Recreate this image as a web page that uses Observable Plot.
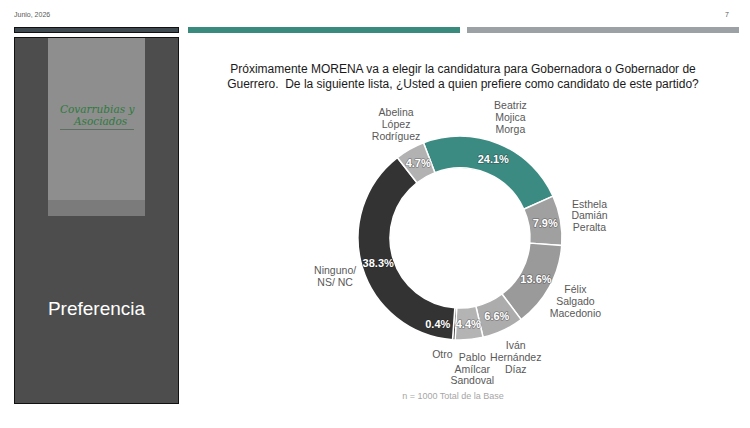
<!DOCTYPE html>
<html><head><meta charset="utf-8">
<script src="https://cdn.jsdelivr.net/npm/d3@7"></script>
<script src="https://cdn.jsdelivr.net/npm/@observablehq/plot@0.6"></script>
<style>
body{margin:0;background:#fff;font-family:"Liberation Sans",Arial,sans-serif;}
#page{position:relative;width:750px;height:428px;overflow:hidden;background:#fff}
.abs{position:absolute;box-sizing:border-box}
#chart svg{overflow:visible;background:transparent}
</style></head><body><div id="page">
<div class="abs" style="left:14px;top:11px;font-size:7px;color:#595959">Junio, 2026</div>
<div class="abs" style="left:725px;top:11px;font-size:7px;color:#595959">7</div>
<div class="abs" style="left:14px;top:27px;width:165px;height:6px;background:#3f4950;border:1px solid #111"></div>
<div class="abs" style="left:188px;top:27px;width:272px;height:6px;background:#3a8a7e"></div>
<div class="abs" style="left:467px;top:27px;width:272px;height:6px;background:#9ca1a6"></div>
<div class="abs" style="left:14px;top:37px;width:165px;height:367px;background:#4d4d4d;border:1px solid #111"></div>
<div class="abs" style="left:48px;top:38px;width:97px;height:162px;background:#8e8e8e"></div>
<div class="abs" style="left:48px;top:200px;width:97px;height:16px;background:#7b7b7b"></div>
<div class="abs" style="left:60px;top:103px;width:80px;font-family:'DejaVu Serif',serif;font-style:italic;color:#2f7a40;font-size:10.5px;line-height:12px">
 <div>Covarrubias y</div><div style="padding-left:14px">Asociados</div>
 <div style="margin-top:2px;border-top:1px solid #5d6f60;width:74px"></div>
</div>
<div class="abs" style="left:14px;top:298px;width:165px;text-align:center;color:#fff;font-size:19px">Preferencia</div>
<div class="abs" style="left:190px;top:62px;width:546px;text-align:center;color:#1a1a1a;font-size:12px;line-height:15px">Próximamente MORENA va a elegir la candidatura para Gobernadora o Gobernador de<br>Guerrero.&nbsp; De la siguiente lista, ¿Usted a quien prefiere como candidato de este partido?</div>
<div class="abs" style="left:353px;top:391px;width:200px;text-align:center;color:#a6a6a6;font-size:9px">n = 1000 Total de la Base</div>
<div id="chart" class="abs" style="left:300px;top:90px"></div>
</div>
<script>
const candidates = ["Beatriz\nMojica\nMorga","Esthela\nDamián\nPeralta","Félix\nSalgado\nMacedonio","Iván\nHernández\nDíaz","Pablo\nAmílcar\nSandoval","Otro","Ninguno/\nNS/ NC","Abelina\nLópez\nRodríguez"];
const shares = [24.1, 7.9, 13.6, 6.6, 4.4, 0.4, 38.3, 4.7];
const colors = ["#3b8b82","#a0a0a0","#9a9a9a","#acacac","#b4b4b4","#2b2b2b","#333333","#b2b2b2"];

const data = candidates.map((c, i) => ({name: c, share: shares[i], color: colors[i]}));
const start = -21 * Math.PI / 180;
const arcs = d3.pie().sort(null).value(d => d.share).startAngle(start).endAngle(start + 2 * Math.PI)(data);
const R_IN = 0.70, R_OUT = 1.02, R_VAL = 0.86, R_LAB = 1.31;
const rows = arcs.map(a => {
  const mid = (a.startAngle + a.endAngle) / 2;
  return {
    name: a.data.name,
    label: a.data.share.toFixed(1) + "%",
    share: a.data.share,
    vx: R_VAL * Math.sin(mid), vy: R_VAL * Math.cos(mid),
    lx: R_LAB * Math.sin(mid), ly: R_LAB * Math.cos(mid)
  };
});
const big = rows.filter(d => d.share >= 1);
const small = rows.filter(d => d.share < 1);

function donut(index, scales) {
  const {x, y} = scales;
  const cx = x(0), cy = y(0);
  const k = x(1) - x(0);
  const arc = d3.arc().innerRadius(R_IN * k).outerRadius(R_OUT * k);
  const g = d3.create("svg:g").attr("transform", `translate(${cx},${cy})`);
  g.selectAll("path").data(arcs).join("path")
    .attr("d", arc).attr("fill", d => d.data.color)
    .attr("stroke", "#fff").attr("stroke-width", 1.5).attr("stroke-linejoin", "round");
  return g.node();
}

const valueStyle = {fill: "#fff", fontWeight: "bold", fontSize: 11, stroke: "rgba(30,30,30,0.35)", strokeWidth: 1.6};
const nameStyle = {fill: "#595959", fontSize: 10.5, lineAnchor: "middle", lineHeight: 1.12};

const plot = Plot.plot({
  width: 320, height: 300, margin: 0,
  x: {domain: [-1.6, 1.6], axis: null},
  y: {domain: [-1.52, 1.48], axis: null},
  style: {fontFamily: "'Liberation Sans', Arial, sans-serif", background: "transparent"},
  marks: [
    donut,
    Plot.text(big, {x: "vx", y: "vy", text: "label", ...valueStyle}),
    Plot.text(small, {x: "vx", y: "vy", text: "label", textAnchor: "end", dx: -5, ...valueStyle}),
    Plot.text(big, {x: "lx", y: "ly", text: "name", ...nameStyle}),
    Plot.text(small, {x: "lx", y: "ly", text: "name", textAnchor: "end", dy: -15, ...nameStyle})
  ]
});
document.getElementById("chart").appendChild(plot);
</script>
</body></html>
